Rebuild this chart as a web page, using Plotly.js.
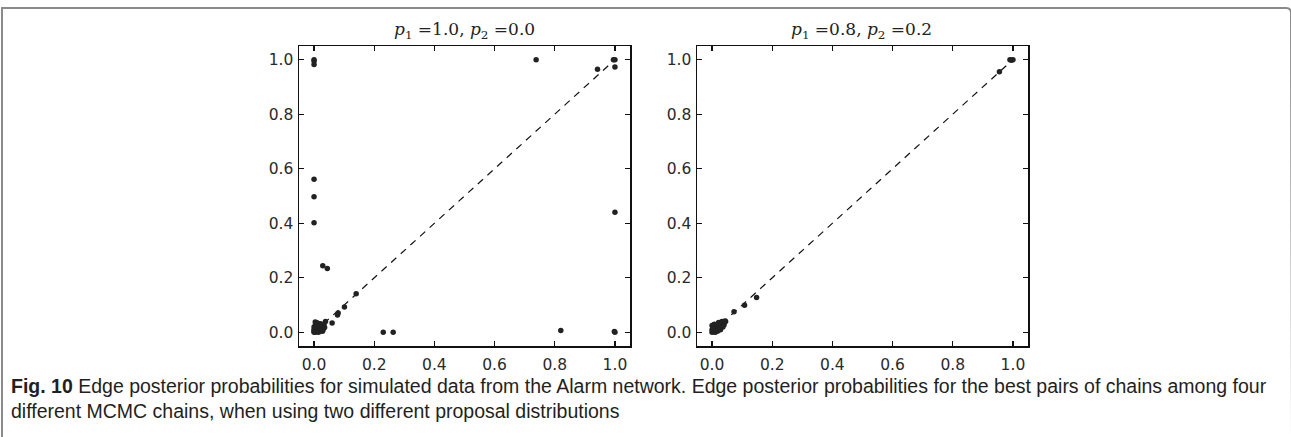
<!DOCTYPE html>
<html>
<head>
<meta charset="utf-8">
<script src="https://cdn.plot.ly/plotly-3.0.1.min.js"></script>
<style>
html,body{margin:0;padding:0;background:#fff;}
#chart{width:1291px;height:437px;}
</style>
</head>
<body>
<div id="chart"></div>
<script>
// Left panel: p1 = 1.0, p2 = 0.0
const leftX = [0, 0, 0.005, 0.01, 0.005, 0.0, 0.01, 0.015, 0.02, 0.025, 0.03, 0.02, 0.015, 0.01, 0.02, 0.03, 0.035, 0.0, 0.005, 0.025,
  0.012, 0.018, 0.008, 0.028, 0.022, 0.004, 0.033,
  0.038, 0.06, 0.08, 0.078, 0.101, 0.14,
  0, 0, 0, 0, 0, 0, 0.029, 0.044,
  0.23, 0.263, 0.82, 1.0, 0.998, 1.0,
  0.738, 0.942, 1.0, 0.995, 1.0];
const leftY = [0, 0.005, 0, 0.01, 0.015, 0.02, 0.025, 0.03, 0.02, 0.015, 0.01, 0.005, 0.0, 0.035, 0.032, 0.025, 0.018, 0.01, 0.03, 0.03,
  0.004, 0.012, 0.022, 0.004, 0.026, 0.038, 0.03,
  0.04, 0.034, 0.071, 0.064, 0.093, 0.142,
  1.0, 0.995, 0.982, 0.561, 0.497, 0.402, 0.244, 0.234,
  0.0, 0.0, 0.007, 0.0, 0.003, 0.44,
  1.0, 0.965, 1.0, 1.0, 0.973];

// Right panel: p1 = 0.8, p2 = 0.2
const rightX = [0, 0.005, 0.01, 0.015, 0.02, 0.025, 0.03, 0.035, 0.04, 0.045, 0.0, 0.005, 0.01, 0.015, 0.02, 0.025, 0.01, 0.02, 0.03, 0.04, 0.043, 0.0, 0.008,
  0.003, 0.012, 0.018, 0.028, 0.036, 0.006, 0.022, 0.033,
  0.073, 0.108, 0.148, 0.955, 0.99, 0.995, 1.0];
const rightY = [0, 0.003, 0.008, 0.012, 0.018, 0.022, 0.028, 0.032, 0.036, 0.04, 0.01, 0.015, 0.02, 0.025, 0.03, 0.035, 0.0, 0.008, 0.018, 0.028, 0.042, 0.025, 0.03,
  0.018, 0.002, 0.004, 0.01, 0.02, 0.028, 0.036, 0.04,
  0.076, 0.099, 0.128, 0.956, 1.0, 0.998, 1.0];

const diagX = [0, 1];
const diagY = [0, 1];

const tickVals = [0.0, 0.2, 0.4, 0.6, 0.8, 1.0];
const tickText = ['0.0', '0.2', '0.4', '0.6', '0.8', '1.0'];

const titles = ['<i>p</i><sub>1</sub> =1.0, <i>p</i><sub>2</sub> =0.0', '<i>p</i><sub>1</sub> =0.8, <i>p</i><sub>2</sub> =0.2'];
const captionBold = 'Fig. 10';
const captionLine1 = ' Edge posterior probabilities for simulated data from the Alarm network. Edge posterior probabilities for the best pairs of chains among four';
const captionLine2 = 'different MCMC chains, when using two different proposal distributions';

const W = 1291, H = 437;
const px = v => v / W;
const py = v => 1 - v / H;

const markerStyle = {size: 5.5, color: '#222222'};
const lineStyle = {color: '#111111', width: 1.2, dash: '7px,6px'};

const traces = [
  {x: diagX, y: diagY, mode: 'lines', line: lineStyle, xaxis: 'x', yaxis: 'y', hoverinfo: 'skip'},
  {x: leftX, y: leftY, mode: 'markers', marker: markerStyle, xaxis: 'x', yaxis: 'y'},
  {x: diagX, y: diagY, mode: 'lines', line: lineStyle, xaxis: 'x2', yaxis: 'y2', hoverinfo: 'skip'},
  {x: rightX, y: rightY, mode: 'markers', marker: markerStyle, xaxis: 'x2', yaxis: 'y2'}
];

const axBase = {
  range: [-0.05, 1.05],
  tickvals: tickVals,
  ticktext: tickText,
  ticks: 'inside',
  ticklen: 5,
  tickwidth: 1.2,
  tickcolor: '#111',
  showline: true,
  linecolor: '#111',
  linewidth: 1.5,
  mirror: 'ticks',
  showgrid: false,
  zeroline: false,
  tickfont: {family: 'DejaVu Sans', size: 15.5, color: '#2a2a2a'},
  fixedrange: true
};

const layout = {
  width: W, height: H,
  margin: {l: 0, r: 0, t: 0, b: 0},
  paper_bgcolor: '#fff',
  plot_bgcolor: '#fff',
  showlegend: false,
  xaxis: Object.assign({}, axBase, {domain: [px(299), px(630)], anchor: 'y', ticklabelstandoff: 4}),
  yaxis: Object.assign({}, axBase, {domain: [py(346), py(46)], anchor: 'x', ticklabelstandoff: 1}),
  xaxis2: Object.assign({}, axBase, {domain: [px(697), px(1028)], anchor: 'y2', ticklabelstandoff: 4}),
  yaxis2: Object.assign({}, axBase, {domain: [py(346), py(46)], anchor: 'x2', ticklabelstandoff: 1}),
  annotations: [
    {text: titles[0], xref: 'paper', yref: 'paper', x: px(464.5), y: py(44), xanchor: 'center', yanchor: 'bottom', showarrow: false,
     font: {family: 'DejaVu Serif', size: 17, color: '#222'}},
    {text: titles[1], xref: 'paper', yref: 'paper', x: px(862), y: py(44), xanchor: 'center', yanchor: 'bottom', showarrow: false,
     font: {family: 'DejaVu Serif', size: 17, color: '#222'}},
    {text: '<b>' + captionBold + '</b>' + captionLine1, xref: 'paper', yref: 'paper', x: px(9), y: py(386), xanchor: 'left', yanchor: 'middle', showarrow: false,
     font: {family: 'Liberation Sans Narrow, Liberation Sans', size: 19.5, color: '#231f20'}},
    {text: captionLine2, xref: 'paper', yref: 'paper', x: px(9), y: py(411), xanchor: 'left', yanchor: 'middle', showarrow: false,
     font: {family: 'Liberation Sans Narrow, Liberation Sans', size: 19.5, color: '#231f20'}}
  ],
  shapes: [
    {type: 'path', xref: 'paper', yref: 'paper',
     path: 'M ' + px(2) + ',0 L ' + px(2) + ',' + py(8) + ' L ' + px(1286) + ',' + py(8) + ' Q ' + px(1291) + ',' + py(8) + ' ' + px(1291) + ',' + py(13) + ' L ' + px(1292) + ',0',
     line: {color: '#8a8a8a', width: 2}}
  ]
};

Plotly.newPlot('chart', traces, layout, {displayModeBar: false, staticPlot: true});
</script>
</body>
</html>
